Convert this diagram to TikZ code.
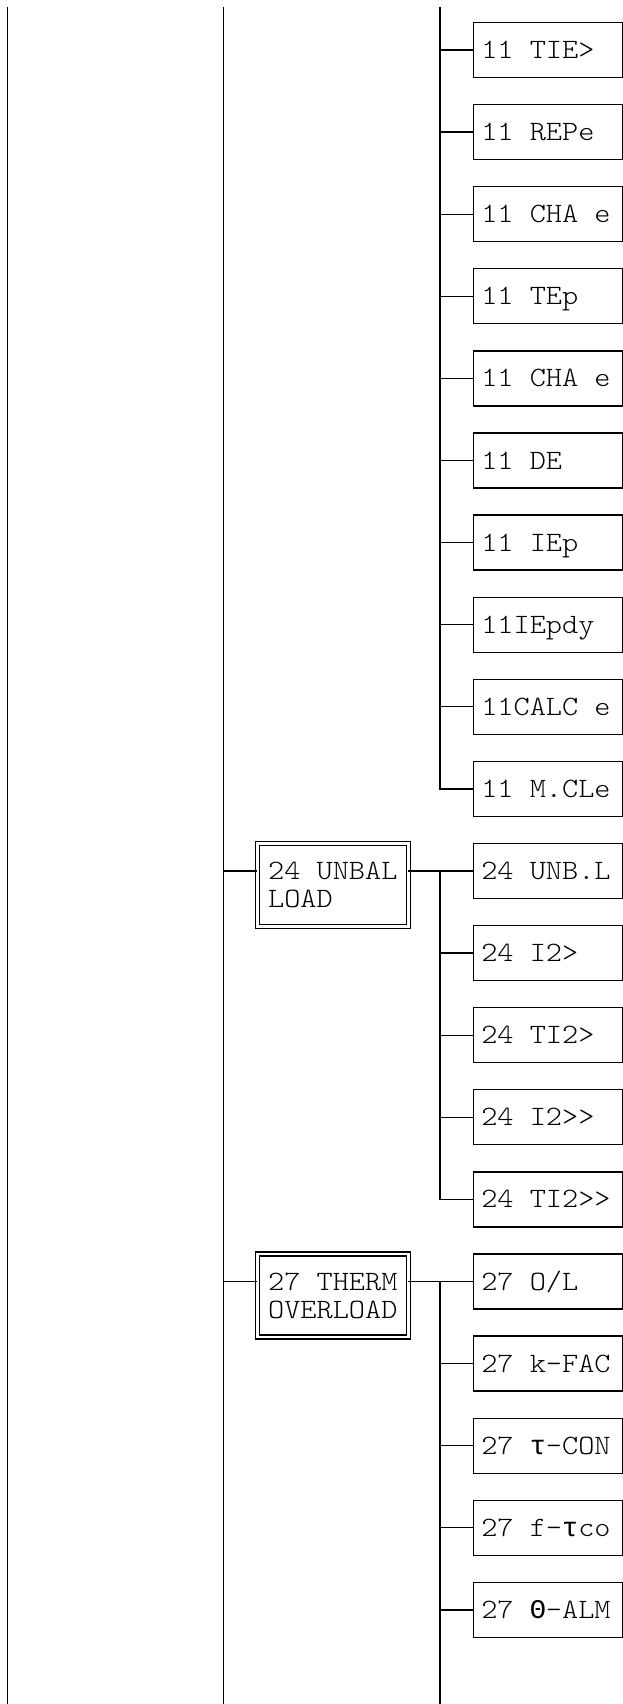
\documentclass[tikz,border=0pt]{standalone}
\usepackage{fontspec}
\setmonofont{lmmonolt10-regular.otf}[FakeStretch=1.1]
\newfontfamily\greekmono{Liberation Mono}
\newcommand\fixspace{\setbox0\hbox{0}\fontdimen2\font=\wd0 \fontdimen3\font=0pt \fontdimen4\font=0pt \spaceskip=0pt \xspaceskip=0pt\relax}
\newcommand\gr[1]{\setbox2\hbox{0}\makebox[\wd2]{\greekmono\fontsize{27}{28}\selectfont #1}}
\usetikzlibrary{positioning}

\begin{document}
\begin{tikzpicture}[
  x=1pt,y=-1pt,
  line width=1.3pt,
  node distance=27.1pt,
  every node/.style={font=\ttfamily\fontsize{28}{28.3}\selectfont\fixspace},
  leaf/.style={draw,outer sep=0pt,inner xsep=8pt,minimum width=149pt,minimum height=55pt,text height=17pt,text depth=0pt,
    execute at begin node={\hbox to 133pt\bgroup},execute at end node={\hss\egroup}},
  group/.style={draw,double,double distance=2.8pt,line width=1.2pt,outer sep=0pt,inner sep=0pt,minimum width=151pt,minimum height=83pt,align=left}
]
  \useasboundingbox (0,0) rectangle (623,1704);

  % rails
  \coordinate (rail1top) at (7.5,7.3);
  \coordinate (rail1bot) at (7.5,1704);
  \coordinate (rail2top) at (223.7,7.3);
  \coordinate (rail2bot) at (223.7,1704);
  \coordinate (rail3top) at (440,7.3);
  \coordinate (rail3bot) at (440,1704);

  % 11 settings
  \node[leaf,anchor=west] (c11a) at (473.3,50) {11 TIE>};
  \node[leaf,below=of c11a] (c11b) {11 REPe};
  \node[leaf,below=of c11b] (c11c) {11 CHA e};
  \node[leaf,below=of c11c] (c11d) {11 TEp};
  \node[leaf,below=of c11d] (c11e) {11 CHA e};
  \node[leaf,below=of c11e] (c11f) {11 DE};
  \node[leaf,below=of c11f] (c11g) {11 IEp};
  \node[leaf,below=of c11g] (c11h) {11IEpdy};
  \node[leaf,below=of c11h] (c11i) {11CALC e};
  \node[leaf,below=of c11i] (c11j) {11 M.CLe};

  % 24 unbalanced load
  \node[leaf,below=of c11j] (c24a) {24 UNB.L};
  \node[leaf,below=of c24a] (c24b) {24 I2>};
  \node[leaf,below=of c24b] (c24c) {24 TI2>};
  \node[leaf,below=of c24c] (c24d) {24 I2>>};
  \node[leaf,below=of c24d] (c24e) {24 TI2>>};
  \node[group,below left=0pt and 65pt of c24a.north west] (unbal) {24 UNBAL\\LOAD};

  % 27 thermal overload
  \node[leaf,below=of c24e] (c27a) {27 O/L};
  \node[leaf,below=of c27a] (c27b) {27 k-FAC};
  \node[leaf,below=of c27b] (c27c) {27 \gr{τ}-CON};
  \node[leaf,below=of c27c] (c27d) {27 f-\gr{τ}co};
  \node[leaf,below=of c27d] (c27e) {27 \gr{Θ}-ALM};
  \node[group,below left=0pt and 65pt of c27a.north west] (therm) {27 THERM\\OVERLOAD};

  \draw (rail1top) -- (rail1bot);
  \draw (rail2top) -- (rail2bot);

  \draw (rail3top) |- (c11j.west);
  \draw (rail3top |- c11a) -- (c11a.west) (rail3top |- c11b) -- (c11b.west)
        (rail3top |- c11c) -- (c11c.west) (rail3top |- c11d) -- (c11d.west)
        (rail3top |- c11e) -- (c11e.west) (rail3top |- c11f) -- (c11f.west)
        (rail3top |- c11g) -- (c11g.west) (rail3top |- c11h) -- (c11h.west)
        (rail3top |- c11i) -- (c11i.west);

  \draw (rail2top |- c24a) -- (c24a -| unbal.west);
  \draw (unbal.east |- c24a) -- (c24a.west);
  \draw (rail3top |- c24a) |- (c24e.west);
  \draw (rail3top |- c24b) -- (c24b.west) (rail3top |- c24c) -- (c24c.west)
        (rail3top |- c24d) -- (c24d.west);

  \draw (rail2top |- c27a) -- (c27a -| therm.west);
  \draw (therm.east |- c27a) -- (c27a.west);
  \draw (rail3bot |- c27a) -- (rail3bot);
  \draw (rail3top |- c27b) -- (c27b.west) (rail3top |- c27c) -- (c27c.west)
        (rail3top |- c27d) -- (c27d.west) (rail3top |- c27e) -- (c27e.west);
\end{tikzpicture}
\end{document}
